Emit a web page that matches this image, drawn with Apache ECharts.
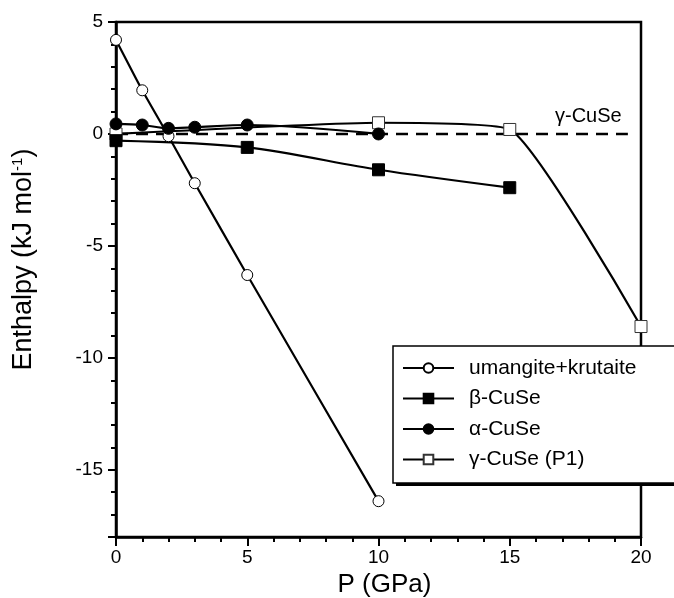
<!DOCTYPE html>
<html>
<head>
<meta charset="utf-8">
<script src="https://cdn.jsdelivr.net/npm/echarts@6/dist/echarts.min.js"></script>
<style>
  html, body { margin: 0; padding: 0; background: #fff; }
  #chart { width: 674px; height: 598px; }
</style>
</head>
<body>
<div id="chart"></div>
<script>
// pressure values (GPa) and enthalpies (kJ/mol)
var umangiteP = [0, 1, 2, 3, 5, 10];
var umangiteH = [4.2, 1.95, -0.1, -2.2, -6.3, -16.4];
var betaP = [0, 5, 10, 15];
var betaH = [-0.3, -0.6, -1.6, -2.4];
var alphaP = [0, 1, 2, 3, 5, 10];
var alphaH = [0.45, 0.4, 0.25, 0.3, 0.4, 0.0];
var gammaP = [0, 10, 15, 20];
var gammaH = [0.0, 0.5, 0.2, -8.6];
var refP = [0, 19.5];   // dashed gamma-CuSe reference level
var refH = [0, 0];

var seriesNames = ['umangite+krutaite', 'β-CuSe', 'α-CuSe', 'γ-CuSe (P1)'];

function pairs(xs, ys) {
    var out = [];
    for (var i = 0; i < xs.length; i++) {
        out.push([xs[i], ys[i]]);
    }
    return out;
}

var font = 'Liberation Sans, Arial, sans-serif';
var chart = echarts.init(document.getElementById('chart'));

var lineStyle = {color: '#000', width: 2.2};

var option = {
    animation: false,
    grid: {
        left: 116, right: 33, top: 22, bottom: 61,
        outerBoundsMode: 'none',
        containLabel: false,
        show: true,
        borderColor: '#000',
        borderWidth: 2.5
    },
    xAxis: {
        type: 'value',
        min: 0, max: 20, interval: 5,
        name: 'P (GPa)',
        nameLocation: 'middle',
        nameGap: 33,
        nameTextStyle: {fontFamily: font, fontSize: 26, color: '#000', padding: [0, 0, 0, 12]},
        axisLine: {onZero: false, lineStyle: {color: '#000', width: 2.5}},
        axisTick: {length: 9, lineStyle: {color: '#000', width: 2}},
        minorTick: {show: true, splitNumber: 5, length: 5, lineStyle: {color: '#000', width: 2}},
        axisLabel: {fontFamily: font, fontSize: 19, color: '#000', margin: 11},
        splitLine: {show: false}
    },
    yAxis: [{
        type: 'value',
        min: -18, max: 5, splitNumber: 5,
        name: 'Enthalpy (kJ mol{sup|-1})',
        nameLocation: 'middle',
        nameRotate: 90,
        nameGap: 79,
        nameTextStyle: {
            fontFamily: font, fontSize: 27, color: '#000',
            padding: [0, 0, 0, 40],
            rich: {sup: {fontFamily: font, fontSize: 15, color: '#000', verticalAlign: 'top', padding: [0, 0, 12, 0]}}
        },
        axisLine: {onZero: false, lineStyle: {color: '#000', width: 2.5}},
        axisTick: {length: 8, lineStyle: {color: '#000', width: 2}},
        axisLabel: {
            fontFamily: font, fontSize: 19, color: '#000', margin: 13,
            formatter: function (v) { return v % 5 === 0 ? String(v) : ''; }
        },
        splitLine: {show: false}
    }, {
        // minor ticks every 1 unit
        type: 'value',
        position: 'left',
        min: -18, max: 5, interval: 1,
        axisLine: {show: false, onZero: false},
        axisTick: {length: 5, lineStyle: {color: '#000', width: 2}},
        axisLabel: {show: false},
        splitLine: {show: false}
    }],
    legend: {
        orient: 'vertical',
        left: 402,
        top: 357,
        padding: 0,
        itemWidth: 51,
        itemHeight: 12,
        itemGap: 8.5,
        z: 20,
        data: seriesNames,
        textStyle: {fontFamily: font, fontSize: 21, color: '#000', lineHeight: 22, padding: [0, 0, 0, 10]}
    },
    graphic: [{
        type: 'rect',
        z: 14,
        shape: {x: 396, y: 349, width: 300, height: 137},
        style: {fill: '#000'}
    }, {
        type: 'rect',
        z: 15,
        shape: {x: 393, y: 346, width: 300, height: 137},
        style: {fill: '#fff', stroke: '#000', lineWidth: 1.5}
    }, {
        type: 'text',
        z: 15,
        left: 555,
        top: 106,
        style: {text: 'γ-CuSe', fontFamily: font, fontSize: 20, fill: '#000'}
    }],
    series: [{
        name: 'γ-CuSe ref',
        type: 'line',
        data: pairs(refP, refH),
        symbol: 'none',
        lineStyle: {color: '#000', width: 2.4, type: [12, 8]},
        z: 1
    }, {
        name: seriesNames[0],
        type: 'line',
        smooth: 0.15,
        data: pairs(umangiteP, umangiteH),
        symbol: 'circle',
        symbolSize: 11,
        itemStyle: {color: '#fff', borderColor: '#000', borderWidth: 1},
        lineStyle: lineStyle,
        z: 3
    }, {
        name: seriesNames[1],
        type: 'line',
        smooth: 0.3,
        data: pairs(betaP, betaH),
        symbol: 'rect',
        symbolSize: 12,
        itemStyle: {color: '#000', borderColor: '#000', borderWidth: 1},
        lineStyle: lineStyle,
        z: 3
    }, {
        name: seriesNames[2],
        type: 'line',
        smooth: 0.3,
        data: pairs(alphaP, alphaH),
        symbol: 'circle',
        symbolSize: 12,
        itemStyle: {color: '#000', borderColor: '#000', borderWidth: 1},
        lineStyle: lineStyle,
        z: 3
    }, {
        name: seriesNames[3],
        type: 'line',
        smooth: 0.15,
        data: pairs(gammaP, gammaH),
        symbol: 'rect',
        symbolSize: 12,
        itemStyle: {color: '#fff', borderColor: '#333', borderWidth: 1},
        lineStyle: lineStyle,
        z: 2
    }]
};

chart.setOption(option);
</script>
</body>
</html>
